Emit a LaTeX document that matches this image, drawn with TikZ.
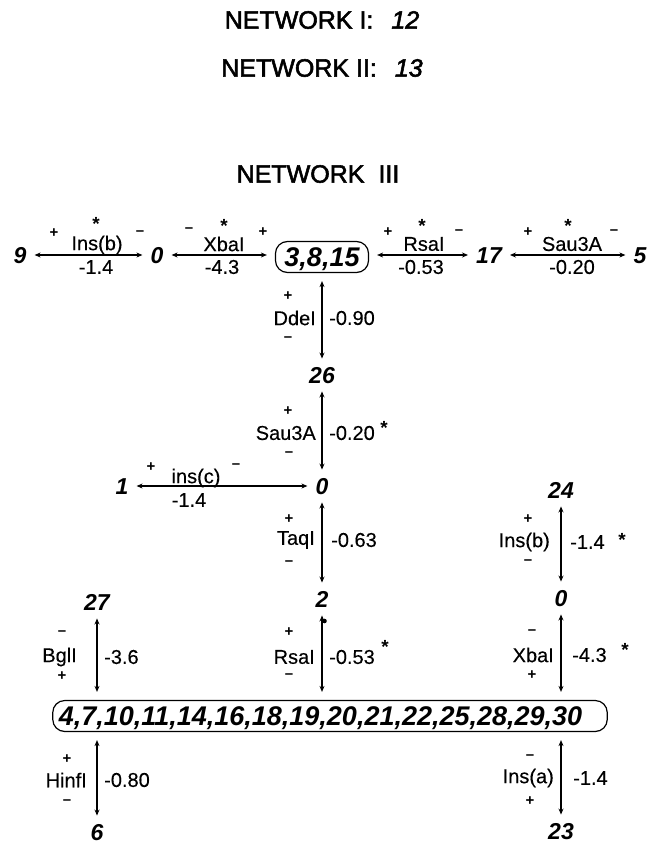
\documentclass[tikz,border=0pt]{standalone}
\usepackage{fontspec}
\setmainfont{Liberation Sans}
\newfontfamily\titfam[FakeBold=2.2]{Liberation Sans}
\newfontfamily\labfam[FakeBold=0.3]{Liberation Sans}
\usetikzlibrary{arrows.meta}
\newcommand\titfont{\titfam\fontsize{25}{28}\selectfont}
\newcommand\labfont{\labfam\fontsize{20}{23}\selectfont}
\newcommand\sgnfont{\fontsize{15}{17}\selectfont\bfseries}
\newcommand\strfont{\fontsize{19}{21}\selectfont\bfseries}
\newcommand\numfont{\fontsize{23}{26}\selectfont\bfseries\itshape}
\newcommand\boxfont{\fontsize{27}{30}\selectfont\bfseries\itshape}
\begin{document}
\begin{tikzpicture}[x=1pt,y=-1pt,
  num/.style={font=\numfont, inner sep=0pt, text height=16.5pt, text depth=0pt},
  grp/.style={draw, line width=1.2pt, rounded corners=12pt, font=\boxfont, inner xsep=9pt, inner ysep=6pt, text height=19pt, text depth=0pt},
  lab/.style={font=\labfont, inner sep=0pt},
  labl/.style={lab, anchor=east},
  labr/.style={lab, anchor=west},
  sgn/.style={font=\sgnfont, inner sep=0pt},
  star/.style={font=\strfont, inner sep=0pt, yshift=-11pt},
  conn/.style={line width=1.3pt, {Stealth[length=6pt,width=5pt]}-{Stealth[length=6pt,width=5pt]}, shorten <=8pt, shorten >=8pt},
  title/.style={font=\titfont, inner sep=0pt}]
\useasboundingbox (0,0) rectangle (657,845);

% titles
\node[title] (net1) at (322,20) {NETWORK I:\hspace{18pt}\textit{12}};
\node[title] (net2) at (322,68) {NETWORK II:\hspace{18pt}\textit{13}};
\node[title] (net3) at (318,174) {NETWORK\hspace{14pt}III};

% top row
\node[num] (t9) at (20,255) {9};
\node[num] (t0) at (157,255) {0};
\node[grp] (b3) at (322,257) {3,8,15};
\node[num] (t17) at (489,255) {17};
\node[num] (t5) at (640,255) {5};
\draw[conn] (t9) -- (t0);
\draw[conn] (t0) -- (t0 -| b3.west);
\draw[conn] (t17 -| b3.east) -- (t17);
\draw[conn] (t17) -- (t5);

\node[sgn] (a1p) at (54,233) {+};
\node[lab] (a1l) at (97,245) {Ins(b)};
\node[sgn] (a1m) at (140,233) {–};
\node[star] (a1s) at (96,219) {\smash{*}};
\node[lab] (a1v) at (96,267) {-1.4};

\node[sgn] (a2m) at (189,230) {–};
\node[lab] (a2l) at (224,244) {XbaI};
\node[sgn] (a2p) at (263,232) {+};
\node[star] (a2s) at (224,221) {\smash{*}};
\node[lab] (a2v) at (222,267) {-4.3};

\node[sgn] (a3p) at (388,232) {+};
\node[lab] (a3l) at (424,244) {RsaI};
\node[sgn] (a3m) at (459,232) {–};
\node[star] (a3s) at (422,221) {\smash{*}};
\node[lab] (a3v) at (421,267) {-0.53};

\node[sgn] (a4p) at (528,232) {+};
\node[lab] (a4l) at (572,244) {Sau3A};
\node[sgn] (a4m) at (614,232) {–};
\node[star] (a4s) at (568,221) {\smash{*}};
\node[lab] (a4v) at (572,267) {-0.20};

% central column
\node[num] (n26) at (322,375) {26};
\node[num] (c0) at (322,486) {0};
\node[num] (n1) at (122,486) {1};
\node[num] (n2) at (322,599) {2};
\node[grp, inner xsep=6pt] (big) at (330,716) {4,7,10,11,14,16,18,19,20,21,22,25,28,29,30\kern19pt};

\draw[conn] (b3) -- (n26);
\draw[conn] (n26) -- (c0);
\draw[conn] (n1) -- (c0);
\draw[conn] (c0) -- (n2);
\draw[conn] (n2) -- (n2 |- big.north);
\fill (324.5,621) circle (2.3pt);

\node[sgn] (d1p) at (288,296) {+};
\node[labl] (d1l) at (316,318) {DdeI};
\node[sgn] (d1m) at (288,339) {–};
\node[labr] (d1v) at (329,318) {-0.90};

\node[sgn] (d2p) at (288,411) {+};
\node[labl] (d2l) at (316,433) {Sau3A};
\node[sgn] (d2m) at (289,454) {–};
\node[labr] (d2v) at (329,433) {-0.20};
\node[star] (d2s) at (384,423) {\smash{*}};

\node[sgn] (h1p) at (151,467) {+};
\node[lab] (h1l) at (196,478) {ins(c)};
\node[sgn] (h1m) at (236,466) {–};
\node[lab] (h1v) at (189,500) {-1.4};

\node[sgn] (d3p) at (289,519) {+};
\node[labl] (d3l) at (315,540) {TaqI};
\node[sgn] (d3m) at (289,563) {–};
\node[labr] (d3v) at (331,540) {-0.63};

\node[sgn] (d4p) at (289,632) {+};
\node[labl] (d4l) at (315,657) {RsaI};
\node[sgn] (d4m) at (289,676) {–};
\node[labr] (d4v) at (329,657) {-0.53};
\node[star] (d4s) at (385,642) {\smash{*}};

% left column
\node[num] (n27) at (97,602) {27};
\node[num] (n6) at (97,832) {6};
\draw[conn] (n27) -- (n27 |- big.north);
\draw[conn] (n6 |- big.south) -- (n6);

\node[sgn] (g1m) at (62,633) {–};
\node[labl] (g1l) at (77,657) {BglI};
\node[sgn] (g1p) at (62,676) {+};
\node[labr] (g1v) at (104,657) {-3.6};

\node[sgn] (f1p) at (67,759) {+};
\node[labl] (f1l) at (87,780) {HinfI};
\node[sgn] (f1m) at (67,802) {–};
\node[labr] (f1v) at (104,780) {-0.80};

% right column
\node[num] (n24) at (561,490) {24};
\node[num] (r0) at (561,598) {0};
\node[num] (n23) at (561,831) {23};
\draw[conn] (n24) -- (r0);
\draw[conn] (r0) -- (r0 |- big.north);
\draw[conn] (n23 |- big.south) -- (n23);

\node[sgn] (e1p) at (528,519) {+};
\node[labl] (e1l) at (550,542) {Ins(b)};
\node[sgn] (e1m) at (528,562) {–};
\node[labr] (e1v) at (570,542) {-1.4};
\node[star] (e1s) at (622,535) {\smash{*}};

\node[sgn] (e2m) at (532,632) {–};
\node[labl] (e2l) at (554,655) {XbaI};
\node[sgn] (e2p) at (532,675) {+};
\node[labr] (e2v) at (572,655) {-4.3};
\node[star] (e2s) at (625,645) {\smash{*}};

\node[sgn] (e3m) at (530,757) {–};
\node[labl] (e3l) at (554,778) {Ins(a)};
\node[sgn] (e3p) at (530,801) {+};
\node[labr] (e3v) at (573,778) {-1.4};
\end{tikzpicture}
\end{document}
